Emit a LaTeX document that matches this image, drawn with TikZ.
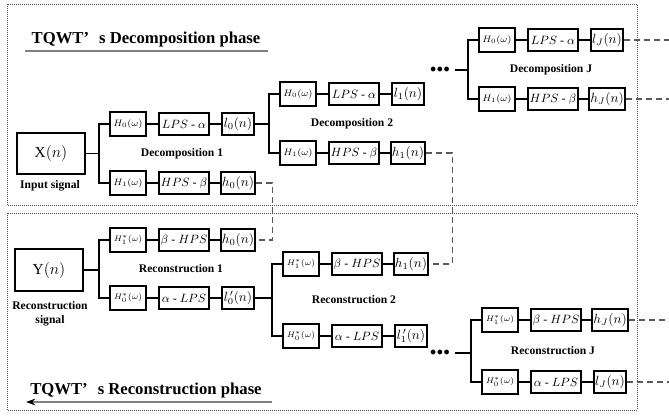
\documentclass[tikz,border=0pt]{standalone}
\usepackage{fontspec}
\setmainfont{Liberation Serif}
\usetikzlibrary{arrows.meta}

\tikzset{
    box/.style={draw, line width=1.4pt, inner sep=1pt},
    fbox/.style={box, minimum width=27pt, minimum height=18pt, font=\fontsize{7.5}{8}\selectfont},
    pbox/.style={box, minimum width=37.5pt, minimum height=16.5pt, font=\fontsize{9}{9}\selectfont},
    obox/.style={box, minimum width=23.5pt, minimum height=17pt, font=\fontsize{10}{10}\selectfont},
    sbox/.style={box, minimum width=51pt, minimum height=31pt, font=\fontsize{11.5}{12}\selectfont},
    lbl/.style={font=\fontsize{8.7}{10.5}\selectfont\bfseries, align=center},
    title/.style={font=\fontsize{12.5}{14}\selectfont\bfseries},
    dotsep/.style={font=\fontsize{9}{9}\selectfont, inner sep=1pt},
    wire/.style={line width=1.1pt},
    link/.style={line width=0.8pt, gray!70!black, dash pattern=on 4.5pt off 3pt},
    frame/.style={line width=0.5pt, gray!60!black, densely dotted},
    rule/.style={line width=1.1pt, gray}
}

\begin{document}
\begin{tikzpicture}[x=0.75pt, y=-0.75pt]
    \useasboundingbox (0,0) rectangle (669,418);
    \coordinate (edge) at (669,0);

    % frames of both phases
    \draw[frame] (7,4) rectangle (637,205);
    \draw[frame] (7,213) rectangle (637,410);

    \node[title] (dtitle) at (146,39) {TQWT’\hspace{.6em}s Decomposition phase};
    \draw[rule] (25,51) -- (268,51);
    \node[title] (rtitle) at (146,390) {TQWT’\hspace{.6em}s Reconstruction phase};
    \draw[rule, -{Stealth[black, length=7pt, width=5pt]}] (272,402) -- (26,402);

    % decomposition stages
    \node[sbox] (xin) at (51,153.5) {X$(n)$};
    \node[lbl] (xlbl) at (50,186) {Input signal};
    \foreach \s/\k/\bx/\ty/\by in {1/0/100/124/183, 2/1/270/94/153, J/J/469/40/99} {
        \begin{scope}[shift={(\bx,0)}]
            \coordinate (db\s) at (0,\ty);
            \node[fbox] (dfa\s) at (28,\ty) {$H_0(\omega)$};
            \node[pbox] (dpa\s) at (84,\ty) {$LPS$ - $\alpha$};
            \node[obox] (dlo\s) at (138,\ty) {$l_{\k}(n)$};
            \node[fbox] (dfb\s) at (28,\by) {$H_1(\omega)$};
            \node[pbox] (dpb\s) at (84,\by) {$HPS$ - $\beta$};
            \node[obox] (dhi\s) at (138,\by) {$h_{\k}(n)$};
            \node[lbl] (dlbl\s) at (82,{(\ty+\by)/2}) {Decomposition \s};
            \draw[wire] (dfa\s) -- (dpa\s) -- (dlo\s);
            \draw[wire] (dfb\s) -- (dpb\s) -- (dhi\s);
            \draw[wire] (dfa\s.west) -- ++(-10,0) |- (dfb\s.west);
        \end{scope}
    }
    \node[dotsep] (ddots) at (440,70) {$\bullet\!\bullet\!\bullet$};
    \draw[wire] (xin) -- (xin -| db1);
    \draw[wire] (dlo1) -- (dlo1 -| db2);
    \draw[wire] (ddots.east) ++(3,0) -- (ddots -| dbJ);

    % reconstruction stages
    \node[sbox] (yout) at (49,270) {Y$(n)$};
    \node[lbl] (ylbl) at (50,314) {Reconstruction\\signal};
    \foreach \s/\k/\o/\bx/\ty/\by in {1/0/{l_0^{\,\prime}}/100/240/298, 2/1/{l_1^{\,\prime}}/273/264/336, J/J/{l_J}/472/320/382} {
        \begin{scope}[shift={(\bx,0)}]
            \coordinate (rb\s) at (0,\ty);
            \node[fbox, font=\fontsize{6.5}{7}\selectfont] (rfb\s) at (28,\ty) {$H_1^*(\omega)$};
            \node[pbox] (rpb\s) at (84,\ty) {$\beta$ - $HPS$};
            \node[obox] (rhi\s) at (138,\ty) {$h_{\k}(n)$};
            \node[fbox, font=\fontsize{6.5}{7}\selectfont] (rfa\s) at (28,\by) {$H_0^*(\omega)$};
            \node[pbox] (rpa\s) at (84,\by) {$\alpha$ - $LPS$};
            \node[obox] (rlo\s) at (138,\by) {$\o(n)$};
            \node[lbl] (rlbl\s) at (81,{(\ty+\by)/2}) {Reconstruction \s};
            \draw[wire] (rfb\s) -- (rpb\s) -- (rhi\s);
            \draw[wire] (rfa\s) -- (rpa\s) -- (rlo\s);
            \draw[wire] (rfb\s.west) -- ++(-10,0) |- (rfa\s.west);
        \end{scope}
    }
    \node[dotsep] (rdots) at (440,353) {$\bullet\!\bullet\!\bullet$};
    \draw[wire] (yout) -- (yout -| rb1);
    \draw[wire] (rlo1) -- (rlo1 -| rb2);
    \draw[wire] (rdots.east) ++(3,0) -- (rdots -| rbJ);

    % links between the phases
    \draw[link] (dhi1.east) -- ++(16,0) |- (rhi1.east);
    \draw[link] (dhi2.east) -- ++(26,0) |- (rhi2.east);
    \draw[link] (dloJ.east) -- (dloJ.east -| edge);
    \draw[link] (dhiJ.east) -- (dhiJ.east -| edge);
    \draw[link] (rhiJ.east) -- (rhiJ.east -| edge);
    \draw[link] (rloJ.east) -- (rloJ.east -| edge);
\end{tikzpicture}
\end{document}
